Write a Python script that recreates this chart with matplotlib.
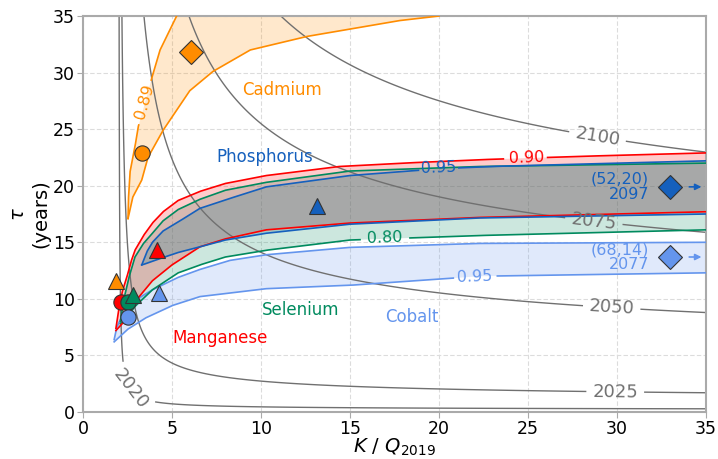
import numpy as np
import matplotlib
matplotlib.use("Agg")
import matplotlib.pyplot as plt

# year contours: peak year of a logistic curve, t_m = 2019 + tau*ln(K/Q - 1)
years = [2020, 2025, 2050, 2075, 2100]
year_label_pos = [(2.75, 2.1), (29.9, 1.8), (29.7, 9.2), (28.7, 16.9), (28.9, 24.3)]

# colours
c_cd = "darkorange"
c_mn = "red"
c_se = "#008a5e"
c_ph = "#1560bd"
c_co = "cornflowerblue"

# confidence regions (left edge / lower edge)
cd_left_x = [2.53, 2.55, 2.64, 2.92, 3.10, 3.50, 3.86, 4.33, 5.26]
cd_left_y = [17.1, 18.75, 21.2, 23.45, 25.2, 27.4, 29.5, 32.0, 35.0]
cd_low_x = [2.53, 2.8, 3.3, 3.65, 4.5, 6.0, 7.3, 9.4, 12.6, 17.8, 20.0]
cd_low_y = [17.1, 19.0, 20.5, 22.5, 24.9, 28.4, 30.1, 32.0, 33.2, 34.6, 35.0]

mn_up_x = [1.85, 2.0, 2.2, 2.46, 2.7, 2.92, 3.4, 3.9, 4.5, 5.35, 6.57, 8.0, 10.3, 14.4, 18.0, 22.3, 28.0, 35.0]
mn_up_y = [7.4, 9.0, 10.6, 11.9, 13.3, 14.3, 15.6, 16.7, 17.7, 18.7, 19.5, 20.2, 20.9, 21.7, 22.0, 22.3, 22.6, 22.9]
mn_lo_x = [1.85, 2.2, 2.5, 3.0, 3.9, 5.0, 6.57, 8.0, 10.3, 15.0, 22.3, 35.0]
mn_lo_y = [7.2, 7.8, 8.6, 9.9, 11.6, 13.0, 14.6, 15.3, 16.1, 16.7, 17.2, 17.7]

se_up_x = [2.1, 2.3, 2.6, 2.92, 3.4, 3.9, 4.5, 5.35, 6.57, 8.0, 10.3, 15.0, 22.3, 35.0]
se_up_y = [8.0, 10.0, 12.0, 13.7, 14.9, 15.8, 16.9, 17.9, 18.8, 19.6, 20.3, 21.3, 21.7, 22.0]
se_lo_x = [2.1, 2.36, 2.9, 3.9, 5.35, 6.57, 8.0, 10.3, 15.0, 22.3, 35.0]
se_lo_y = [7.8, 8.1, 9.3, 10.8, 12.3, 13.0, 13.7, 14.3, 15.2, 15.6, 16.1]

ph_up_x = [3.3, 3.6, 3.9, 4.5, 5.35, 6.57, 8.0, 10.3, 15.0, 20.0, 22.9, 35.0]
ph_up_y = [13.0, 14.2, 15.0, 16.0, 16.8, 18.0, 18.75, 19.9, 20.9, 21.5, 21.7, 22.2]
ph_lo_x = [3.3, 3.5, 4.4, 5.35, 6.57, 8.0, 10.3, 15.0, 22.3, 35.0]
ph_lo_y = [13.0, 13.1, 13.6, 14.1, 14.6, 15.2, 15.8, 16.6, 17.15, 17.5]

co_up_x = [1.75, 1.9, 2.2, 2.64, 3.9, 5.35, 6.57, 8.26, 10.3, 15.0, 22.3, 35.0]
co_up_y = [6.4, 7.5, 8.5, 9.6, 10.8, 11.9, 12.6, 13.4, 13.9, 14.55, 14.9, 15.0]
co_lo_x = [1.75, 2.5, 3.5, 5.0, 6.57, 10.3, 15.0, 22.3, 35.0]
co_lo_y = [6.2, 7.3, 8.3, 9.4, 10.2, 10.9, 11.2, 12.0, 12.3]

# estimates per element: circle, triangle, diamond
mk_cd = [("o", 3.3, 22.9), ("^", 1.84, 11.6), ("D", 6.05, 31.85)]
mk_mn = [("o", 2.13, 9.75), ("^", 4.18, 14.3)]
mk_se = [("o", 2.55, 9.7), ("^", 2.83, 10.3)]
mk_co = [("o", 2.51, 8.43), ("^", 4.29, 10.5), ("D", 33.0, 13.7)]
mk_ph = [("^", 13.16, 18.2), ("D", 33.0, 19.9)]


def draw_edge(ax, xs, ys, color, gap=None):
    xs = np.asarray(xs, float)
    ys = np.asarray(ys, float)
    if gap is not None:
        # split the segments finely so the label gap can be cut out
        t = np.linspace(0, 1, 40)
        xs = np.concatenate([a + (b - a) * t for a, b in zip(xs[:-1], xs[1:])])
        ys = np.concatenate([a + (b - a) * t for a, b in zip(ys[:-1], ys[1:])])
        x0, x1, y0, y1 = gap
        cut = (xs > x0) & (xs < x1) & (ys > y0) & (ys < y1)
        xs[cut] = np.nan
    ax.plot(xs, ys, color=color, lw=1.2, zorder=3)


def band(ax, ux, uy, lx, ly, color, ugap=None, lgap=None, fill=None, alpha=0.2):
    px = list(ux) + list(lx)[::-1]
    py = list(uy) + list(ly)[::-1]
    ax.fill(px, py, color=fill or color, alpha=alpha, lw=0, zorder=1)
    draw_edge(ax, ux, uy, color, ugap)
    draw_edge(ax, lx, ly, color, lgap)


fig = plt.figure(figsize=(7.18, 4.59), dpi=100)
ax = fig.add_axes([0.1156, 0.1024, 0.8677, 0.8627])

ax.set_xlim(0, 35)
ax.set_ylim(0, 35)
ax.grid(True, color="#dcdcdc", lw=0.8, ls=(0, (4, 2)))
ax.set_axisbelow(True)
for s in ax.spines.values():
    s.set_color("#aaaaaa")
    s.set_linewidth(1.5)
ax.tick_params(colors="#aaaaaa", labelcolor="black", labelsize=12.5, length=4, pad=2)
ax.set_xticks(range(0, 36, 5))
ax.set_yticks(range(0, 36, 5))

# gray year contours
gx = np.concatenate([np.linspace(1.0005, 3, 1500), np.linspace(3.01, 35.5, 800)])
gy = np.linspace(0.02, 36, 900)
GX, GY = np.meshgrid(gx, gy)
Z = 2019 + GY * np.log(GX - 1)
cs = ax.contour(GX, GY, Z, levels=years, colors="#707070", linewidths=1.0, zorder=2)
ax.clabel(cs, fmt="%d", fontsize=13, colors="#707070", inline=True,
          manual=year_label_pos, inline_spacing=6)

# bands
band(ax, co_up_x, co_up_y, co_lo_x, co_lo_y, c_co, lgap=(20.9, 23.1, 10, 14))
band(ax, se_up_x, se_up_y, se_lo_x, se_lo_y, c_se, lgap=(15.7, 18.2, 13, 17))
band(ax, mn_up_x, mn_up_y, mn_lo_x, mn_lo_y, c_mn, ugap=(23.7, 26.1, 20, 25))
band(ax, ph_up_x, ph_up_y, ph_lo_x, ph_lo_y, c_ph, ugap=(18.9, 21.1, 19, 24),
     fill="#3d8595", alpha=0.3)
band(ax, cd_left_x, cd_left_y, cd_low_x, cd_low_y, c_cd, ugap=(2.5, 4.5, 25.4, 29.3))

# band labels
ax.text(3.45, 27.4, "0.89", color=c_cd, fontsize=11.5, rotation=74, ha="center", va="center")
ax.text(24.9, 22.45, "0.90", color=c_mn, fontsize=11.5, rotation=2, ha="center", va="center")
ax.text(20.0, 21.55, "0.95", color=c_ph, fontsize=11.5, rotation=2, ha="center", va="center")
ax.text(16.95, 15.4, "0.80", color=c_se, fontsize=11.5, rotation=2, ha="center", va="center")
ax.text(22.0, 11.95, "0.95", color=c_co, fontsize=11.5, rotation=2, ha="center", va="center")

# element names
ax.text(11.2, 28.5, "Cadmium", color=c_cd, fontsize=12, ha="center", va="center")
ax.text(10.2, 22.5, "Phosphorus", color=c_ph, fontsize=12, ha="center", va="center")
ax.text(12.2, 9.0, "Selenium", color=c_se, fontsize=12, ha="center", va="center")
ax.text(18.5, 8.4, "Cobalt", color=c_co, fontsize=12, ha="center", va="center")
ax.text(7.7, 6.5, "Manganese", color=c_mn, fontsize=12, ha="center", va="center")

# markers
kw = dict(markeredgecolor="#333333", markeredgewidth=0.8, linestyle="none", zorder=5)
for pts, c in [(mk_cd, c_cd), (mk_mn, c_mn), (mk_se, c_se), (mk_co, c_co), (mk_ph, c_ph)]:
    for m, x, y in pts:
        ms = 12.5 if m == "D" else 11
        ax.plot(x, y, marker=m, color=c, markersize=ms, **kw)

# off-scale points
for y, c, txt in [(19.9, c_ph, "(52,20)\n2097"), (13.7, c_co, "(68,14)\n2077")]:
    ax.text(31.8, y, txt, color=c, fontsize=11.5, ha="right", va="center", linespacing=1.0)
    ax.annotate("", xy=(34.9, y), xytext=(33.9, y),
                arrowprops=dict(arrowstyle="-|>", color=c, lw=1.2, mutation_scale=9))

ax.set_xlabel("$K$ / $Q_{2019}$", fontsize=14, labelpad=-1)
ax.set_ylabel("$\\tau$\n(years)", fontsize=14, labelpad=2)

fig.savefig("out.png", dpi=100)
